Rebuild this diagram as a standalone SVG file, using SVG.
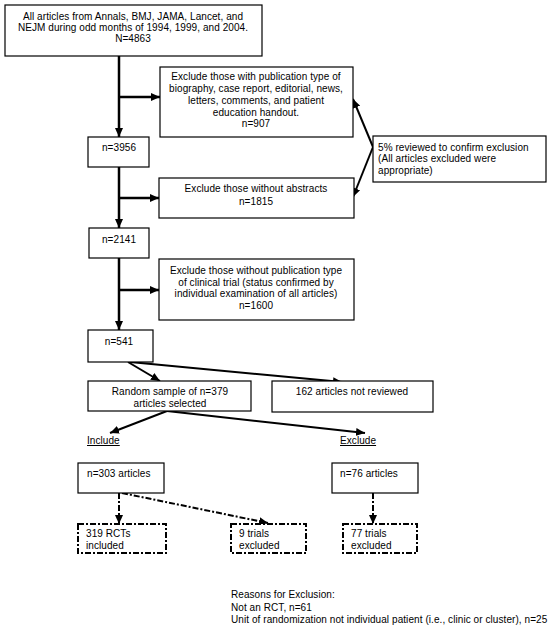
<svg xmlns="http://www.w3.org/2000/svg" width="550" height="628" viewBox="0 0 550 628">
<defs>
<marker id="ah" markerUnits="userSpaceOnUse" markerWidth="10" markerHeight="10" refX="9" refY="5" orient="auto">
<path d="M0,1 L9,5 L0,9 Z" fill="#000"/>
</marker>
<style>
.box{fill:#fff;stroke:#000;stroke-width:1.2}
.dbox{fill:#fff;stroke:#000;stroke-width:2;stroke-dasharray:6,2,2,2}
text{font-family:"Liberation Sans",Arial,sans-serif;font-size:10px;fill:#000;letter-spacing:0.07px}
.c{text-anchor:middle}
.main{fill:none;stroke:#000;stroke-width:2.5}
.ln{fill:none;stroke:#000;stroke-width:2}
.dd{fill:none;stroke:#000;stroke-width:2;stroke-dasharray:6,2,2,2}
</style>
</defs>
<rect width="550" height="628" fill="#fff"/>
<g id="connectors">
<path class="main" d="M119,56 V137" marker-end="url(#ah)"/>
<path class="main" d="M119,97 H160" marker-end="url(#ah)"/>
<path class="main" d="M119,167 V228" marker-end="url(#ah)"/>
<path class="main" d="M119,198 H159" marker-end="url(#ah)"/>
<path class="main" d="M119,258 V330" marker-end="url(#ah)"/>
<path class="main" d="M119,290 H159" marker-end="url(#ah)"/>
<path class="ln" d="M373,147 L353,99" marker-end="url(#ah)"/>
<path class="ln" d="M373,147 L353,197" marker-end="url(#ah)"/>
<path class="ln" d="M128,362 L160,381" marker-end="url(#ah)"/>
<path class="ln" d="M130,362 L342,382" marker-end="url(#ah)"/>
<path class="ln" d="M167,411 L110,433" marker-end="url(#ah)"/>
<path class="ln" d="M167,411 L365,433" marker-end="url(#ah)"/>
<path class="dd" d="M119,493 V524" marker-end="url(#ah)"/>
<path class="dd" d="M122,493 L268,523" marker-end="url(#ah)"/>
<path class="dd" d="M373,493 V524" marker-end="url(#ah)"/>
</g>
<g id="n_all">
<rect class="box" x="5" y="5" width="257" height="51"/>
<text class="c" x="133" y="20">All articles from Annals, BMJ, JAMA, Lancet, and</text>
<text class="c" x="133" y="31">NEJM during odd months of 1994, 1999, and 2004.</text>
<text class="c" x="133" y="42">N=4863</text>
</g>
<g id="n_excl_type">
<rect class="box" x="160" y="67" width="193" height="70"/>
<text class="c" x="256" y="80">Exclude those with publication type of</text>
<text class="c" x="256" y="92">biography, case report, editorial, news,</text>
<text class="c" x="256" y="104">letters, comments, and patient</text>
<text class="c" x="256" y="116">education handout.</text>
<text class="c" x="256" y="127">n=907</text>
</g>
<g id="n_3956">
<rect class="box" x="88" y="137" width="61" height="30"/>
<text class="c" x="119" y="151">n=3956</text>
</g>
<g id="n_review">
<rect class="box" x="373" y="136" width="173" height="46"/>
<text x="378" y="151">5% reviewed to confirm exclusion</text>
<text x="378" y="162">(All articles excluded were</text>
<text x="378" y="174">appropriate)</text>
</g>
<g id="n_excl_abs">
<rect class="box" x="159" y="178" width="195" height="40"/>
<text class="c" x="256" y="192">Exclude those without abstracts</text>
<text class="c" x="256" y="205">n=1815</text>
</g>
<g id="n_2141">
<rect class="box" x="89" y="228" width="60" height="30"/>
<text class="c" x="119" y="243">n=2141</text>
</g>
<g id="n_excl_ct">
<rect class="box" x="159" y="259" width="195" height="61"/>
<text class="c" x="256" y="274">Exclude those without publication type</text>
<text class="c" x="256" y="286">of clinical trial (status confirmed by</text>
<text class="c" x="256" y="297">individual examination of all articles)</text>
<text class="c" x="256" y="309">n=1600</text>
</g>
<g id="n_541">
<rect class="box" x="88" y="330" width="65" height="32"/>
<text class="c" x="119" y="345">n=541</text>
</g>
<g id="n_random">
<rect class="box" x="88" y="381" width="163" height="30"/>
<text class="c" x="170" y="395">Random sample of n=379</text>
<text class="c" x="170" y="407">articles selected</text>
</g>
<g id="n_notrev">
<rect class="box" x="272" y="381" width="161" height="31"/>
<text class="c" x="352" y="395">162 articles not reviewed</text>
</g>
<g id="n_include">
<text x="87" y="444" text-decoration="underline">Include</text>
</g>
<g id="n_exclude">
<text x="340" y="444" text-decoration="underline">Exclude</text>
</g>
<g id="n_303">
<rect class="box" x="78" y="463" width="86" height="30"/>
<text x="87" y="477">n=303 articles</text>
</g>
<g id="n_76">
<rect class="box" x="332" y="463" width="86" height="30"/>
<text x="340" y="477">n=76 articles</text>
</g>
<g id="n_319">
<rect class="dbox" x="78" y="524" width="88" height="29"/>
<text x="86" y="537">319 RCTs</text>
<text x="86" y="549">included</text>
</g>
<g id="n_9">
<rect class="dbox" x="231" y="524" width="75" height="29"/>
<text x="239" y="537">9 trials</text>
<text x="239" y="549">excluded</text>
</g>
<g id="n_77">
<rect class="dbox" x="343" y="524" width="74" height="29"/>
<text x="351" y="537">77 trials</text>
<text x="351" y="549">excluded</text>
</g>
<g id="n_reasons">
<text x="231" y="598">Reasons for Exclusion:</text>
<text x="231" y="611">Not an RCT, n=61</text>
<text x="231" y="623">Unit of randomization not individual patient (i.e., clinic or cluster), n=25</text>
</g>
</svg>
